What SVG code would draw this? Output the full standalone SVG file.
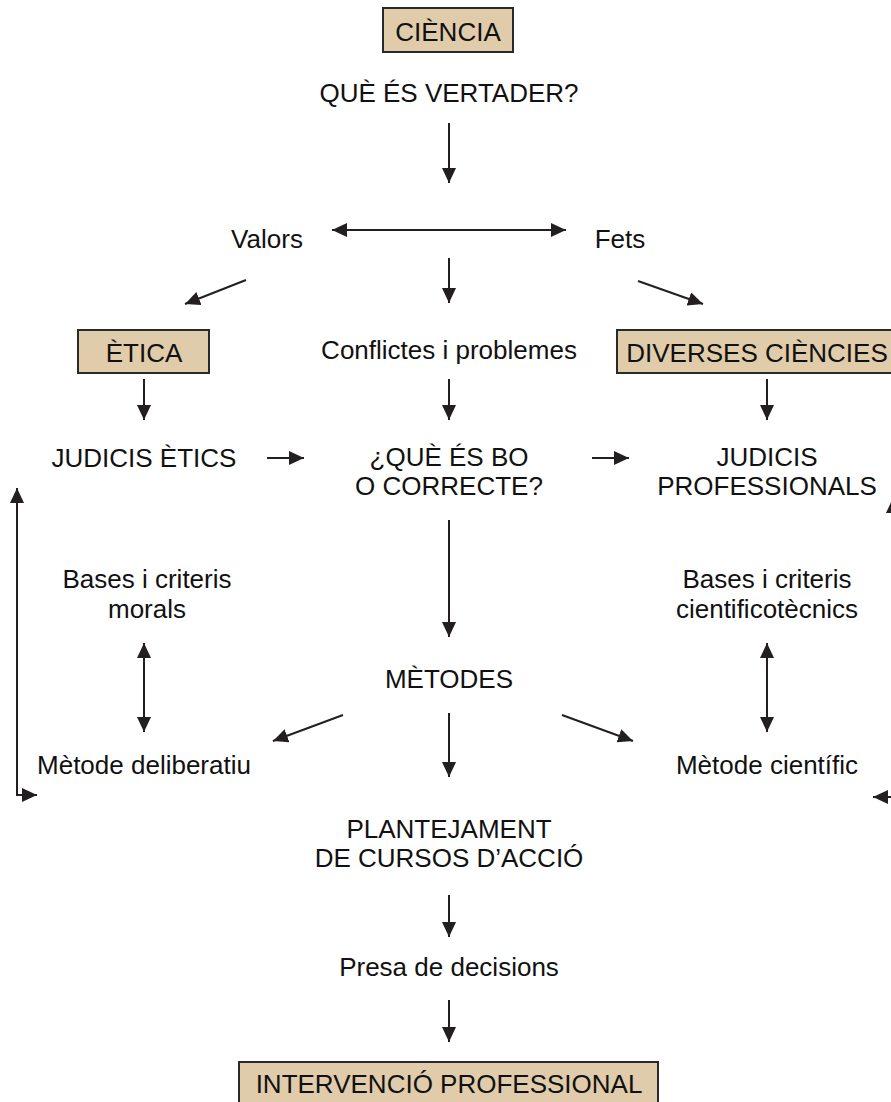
<svg xmlns="http://www.w3.org/2000/svg" width="891" height="1102" viewBox="0 0 891 1102">
<style>
text{font-family:"Liberation Sans",Arial,sans-serif;font-size:26px;fill:#111;text-anchor:middle}
.box{fill:#e0ccaa;stroke:#2a2a2a;stroke-width:2}
.c{stroke:#231f20;stroke-width:2;fill:none;marker-end:url(#ah)}
.d{marker-start:url(#ah)}
</style>
<defs>
<marker id="ah" markerUnits="userSpaceOnUse" markerWidth="16" markerHeight="14" refX="15" refY="7" orient="auto-start-reverse">
<path d="M0,0 L15,7 L0,14 z" fill="#231f20"/>
</marker>
</defs>
<g id="connectors">
<line class="c" x1="449" y1="123" x2="449" y2="183"/>
<line class="c d" x1="332" y1="230" x2="566" y2="230"/>
<line class="c" x1="449" y1="258" x2="449" y2="303"/>
<line class="c" x1="246" y1="280" x2="185" y2="304"/>
<line class="c" x1="638" y1="281" x2="703" y2="304"/>
<line class="c" x1="144" y1="379" x2="144" y2="420"/>
<line class="c" x1="449" y1="379" x2="449" y2="420"/>
<line class="c" x1="767" y1="379" x2="767" y2="420"/>
<line class="c" x1="267" y1="458" x2="304" y2="458"/>
<line class="c" x1="592" y1="458" x2="629" y2="458"/>
<line class="c" x1="449" y1="520" x2="449" y2="637"/>
<line class="c d" x1="144" y1="643" x2="144" y2="732"/>
<line class="c d" x1="767" y1="643" x2="767" y2="732"/>
<line class="c" x1="343" y1="715" x2="273" y2="741"/>
<line class="c" x1="449" y1="713" x2="449" y2="777"/>
<line class="c" x1="562" y1="715" x2="633" y2="741"/>
<path class="c d" d="M17,488 L17,795 L37,795"/>
<path class="c d" d="M893,498 L893,797 L873,797"/>
<line class="c" x1="449" y1="895" x2="449" y2="937"/>
<line class="c" x1="449" y1="1000" x2="449" y2="1042"/>
</g>
<g id="ciencia"><rect class="box" x="383" y="8" width="130" height="44"/><text x="448" y="41">CIÈNCIA</text></g>
<g id="vertader"><text x="449" y="102">QUÈ ÉS VERTADER?</text></g>
<g id="valors"><text x="267" y="248">Valors</text></g>
<g id="fets"><text x="620" y="248">Fets</text></g>
<g id="etica"><rect class="box" x="78" y="330" width="131" height="43"/><text x="144" y="362">ÈTICA</text></g>
<g id="conflictes"><text x="449" y="359">Conflictes i problemes</text></g>
<g id="diverses"><rect class="box" x="617" y="330" width="290" height="43"/><text x="757" y="362">DIVERSES CIÈNCIES</text></g>
<g id="judicis-etics"><text x="144" y="467">JUDICIS ÈTICS</text></g>
<g id="bo"><text x="449" y="466">¿QUÈ ÉS BO</text><text x="449" y="495">O CORRECTE?</text></g>
<g id="judicis-prof"><text x="767" y="466">JUDICIS</text><text x="767" y="495">PROFESSIONALS</text></g>
<g id="bases-morals"><text x="147" y="588">Bases i criteris</text><text x="147" y="618">morals</text></g>
<g id="bases-cient"><text x="767" y="588">Bases i criteris</text><text x="767" y="618">cientificotècnics</text></g>
<g id="metodes"><text x="449" y="688">MÈTODES</text></g>
<g id="deliberatiu"><text x="144" y="774">Mètode deliberatiu</text></g>
<g id="cientific"><text x="767" y="774">Mètode científic</text></g>
<g id="plantejament"><text x="449" y="838">PLANTEJAMENT</text><text x="449" y="867">DE CURSOS D’ACCIÓ</text></g>
<g id="presa"><text x="449" y="976">Presa de decisions</text></g>
<g id="intervencio"><rect class="box" x="239" y="1062" width="419" height="60"/><text x="449" y="1093">INTERVENCIÓ PROFESSIONAL</text></g>
</svg>
